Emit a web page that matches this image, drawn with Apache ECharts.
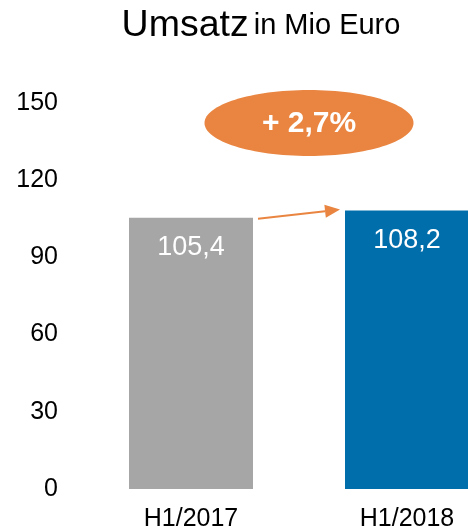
<!DOCTYPE html>
<html><head><meta charset="utf-8">
<script src="https://cdn.jsdelivr.net/npm/echarts@6/dist/echarts.min.js"></script>
<style>html,body{margin:0;padding:0;background:#fff}#c{width:468px;height:531px}</style>
</head><body><div id="c"></div>
<script>
const categories = ['H1/2017', 'H1/2018'];
const values = [105.4, 108.2];
const valueLabels = ['105,4', '108,2'];
const barColors = ['#a6a6a6', '#006eab'];
const yTicks = [0, 30, 60, 90, 120, 150];
const changeLabel = '+ 2,7%';

const chart = echarts.init(document.getElementById('c'));
const font = '"Liberation Sans", Arial, sans-serif';
chart.setOption({
  animation: false,
  title: {
    text: '{a|Umsatz} {b|in Mio Euro}',
    left: 256, top: 2, textAlign: 'center',
    textStyle: { fontWeight: 'normal', rich: {
      a: { fontSize: 37.5, fontFamily: font, color: '#000', fontWeight: 'normal' },
      b: { fontSize: 29, fontFamily: font, color: '#000', fontWeight: 'normal' }
    } }
  },
  grid: { left: 83, top: 103, right: -47, bottom: 42, containLabel: false, outerBoundsMode: 'none' },
  xAxis: {
    type: 'category', data: categories,
    axisLine: { show: false }, axisTick: { show: false },
    axisLabel: { fontSize: 25, fontFamily: font, color: '#000', margin: 18 }
  },
  yAxis: {
    type: 'value', min: yTicks[0], max: yTicks[yTicks.length - 1], interval: 30,
    axisLine: { show: false }, axisTick: { show: false }, splitLine: { show: false },
    axisLabel: { fontSize: 25, fontFamily: font, color: '#000', margin: 25 }
  },
  series: [{
    type: 'bar', barWidth: 124,
    data: values.map((v, i) => ({ value: v, itemStyle: { color: barColors[i] },
      label: { formatter: valueLabels[i] } })),
    label: { show: true, position: 'insideTop', distance: 16, color: '#fff', fontSize: 27, fontFamily: font }
  }]
});

const p0 = chart.convertToPixel({ gridIndex: 0 }, [0, values[0]]);
const p1 = chart.convertToPixel({ gridIndex: 0 }, [1, values[1]]);
const ecy = chart.convertToPixel({ gridIndex: 0 }, [0, 142.2])[1];
const x0 = p0[0] + 62 + 5, y0 = p0[1] + 1;
const x1 = p1[0] - 62 - 5, y1 = p1[1] - 1;
const ang = Math.atan2(y1 - y0, x1 - x0);
const hl = 15, hw = 6.5;
const bx = x1 - hl * Math.cos(ang), by = y1 - hl * Math.sin(ang);
const nx = -Math.sin(ang) * hw, ny = Math.cos(ang) * hw;
const orange = '#e98540';
const ecx = (p0[0] + p1[0]) / 2 + 10;
chart.setOption({
  graphic: [
    { type: 'ellipse', shape: { cx: ecx, cy: ecy, rx: 104.5, ry: 33 }, style: { fill: orange } },
    { type: 'text', x: ecx, y: ecy + 1, style: { text: changeLabel, fill: '#fff', font: 'bold 30px ' + font, align: 'center', verticalAlign: 'middle' } },
    { type: 'line', shape: { x1: x0, y1: y0, x2: bx, y2: by }, style: { stroke: orange, lineWidth: 2 } },
    { type: 'polygon', shape: { points: [[x1, y1], [bx + nx, by + ny], [bx - nx, by - ny]] }, style: { fill: orange } }
  ]
});
</script></body></html>
